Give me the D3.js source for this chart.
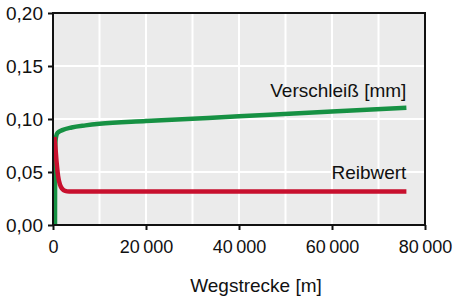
<!DOCTYPE html>
<html>
<head>
<meta charset="utf-8">
<script src="https://cdn.jsdelivr.net/npm/d3@7"></script>
<style>
  body { margin: 0; background: #fff; }
  svg text { font-family: "Liberation Sans", Arial, sans-serif; fill: #111; }
</style>
</head>
<body>
<svg width="453" height="300"></svg>
<script>
// data
var xTicks = [0, 20000, 40000, 60000, 80000];
var yTicks = [0, 0.05, 0.10, 0.15, 0.20];
var xGrid = [10000, 20000, 30000, 40000, 50000, 60000, 70000];
var yGrid = [0.05, 0.10, 0.15];

var wearX = [430, 450, 520, 700, 1000, 2000, 4000, 7000, 10000, 20000, 40000, 60000, 76000];
var wearY = [0, 0.06, 0.078, 0.084, 0.087, 0.0895, 0.092, 0.094, 0.0955, 0.098, 0.1025, 0.107, 0.1105];

var frictionX = [300, 500, 800, 1100, 1500, 2000, 2600, 3500, 6000, 76000];
var frictionY = [0.083, 0.074, 0.058, 0.046, 0.038, 0.034, 0.0322, 0.0316, 0.0315, 0.0315];

var margin = { top: 13, right: 28, bottom: 75, left: 53 };
var width = 453 - margin.left - margin.right;
var height = 300 - margin.top - margin.bottom;

var svg = d3.select("svg");
var g = svg.append("g")
    .attr("transform", "translate(" + margin.left + "," + margin.top + ")");

var x = d3.scaleLinear().domain([0, 80000]).range([0, width]);
var y = d3.scaleLinear().domain([0, 0.20]).range([height, 0]);

// plot background
g.append("rect")
    .attr("width", width)
    .attr("height", height)
    .attr("fill", "#ebebeb");

// white grid
g.selectAll(".gx").data(xGrid).enter().append("line")
    .attr("x1", function (d) { return x(d); })
    .attr("x2", function (d) { return x(d); })
    .attr("y1", 0).attr("y2", height)
    .attr("stroke", "#fff").attr("stroke-width", 2);
g.selectAll(".gy").data(yGrid).enter().append("line")
    .attr("y1", function (d) { return y(d); })
    .attr("y2", function (d) { return y(d); })
    .attr("x1", 0).attr("x2", width)
    .attr("stroke", "#fff").attr("stroke-width", 2);

// curves
function makeLine(xs, ys) {
    return d3.line()
        .x(function (d, i) { return x(xs[i]); })
        .y(function (d, i) { return y(ys[i]); })
        .curve(d3.curveMonotoneX)(xs);
}
g.append("path")
    .attr("d", makeLine(wearX, wearY))
    .attr("fill", "none")
    .attr("stroke", "#169143")
    .attr("stroke-width", 4.5);
g.append("path")
    .attr("d", makeLine(frictionX, frictionY))
    .attr("fill", "none")
    .attr("stroke", "#c8102e")
    .attr("stroke-width", 4.5);

// labels on the curves
g.append("text")
    .attr("x", x(76000)).attr("y", y(0.1205))
    .attr("text-anchor", "end")
    .style("font-size", "19px")
    .text("Verschleiß [mm]");
g.append("text")
    .attr("x", x(76000)).attr("y", y(0.0430))
    .attr("text-anchor", "end")
    .style("font-size", "19px")
    .text("Reibwert");

// frame
g.append("rect")
    .attr("width", width)
    .attr("height", height)
    .attr("fill", "none")
    .attr("stroke", "#111")
    .attr("stroke-width", 2);

// axes
var xAxis = d3.axisBottom(x)
    .tickValues(xTicks)
    .tickSize(5)
    .tickPadding(10)
    .tickFormat(function (d) { return d === 0 ? "0" : d3.format(",")(d).replace(",", "\u2009"); });
var yAxis = d3.axisLeft(y)
    .tickValues(yTicks)
    .tickSize(5)
    .tickPadding(5)
    .tickFormat(function (d) { return d3.format(".2f")(d).replace(".", ","); });

var gx = g.append("g")
    .attr("transform", "translate(0," + height + ")")
    .call(xAxis);
var gy = g.append("g").call(yAxis);

[gx, gy].forEach(function (a) {
    a.select(".domain").remove();
    a.selectAll(".tick line").attr("stroke", "#111").attr("stroke-width", 2);
    a.selectAll(".tick text").style("font-size", "19px").attr("fill", "#111");
});
gx.selectAll(".tick text").style("font-size", "18px");

g.append("text")
    .attr("x", x(40000) + 17)
    .attr("y", height + 67)
    .attr("text-anchor", "middle")
    .style("font-size", "19px")
    .text("Wegstrecke [m]");
</script>
</body>
</html>
